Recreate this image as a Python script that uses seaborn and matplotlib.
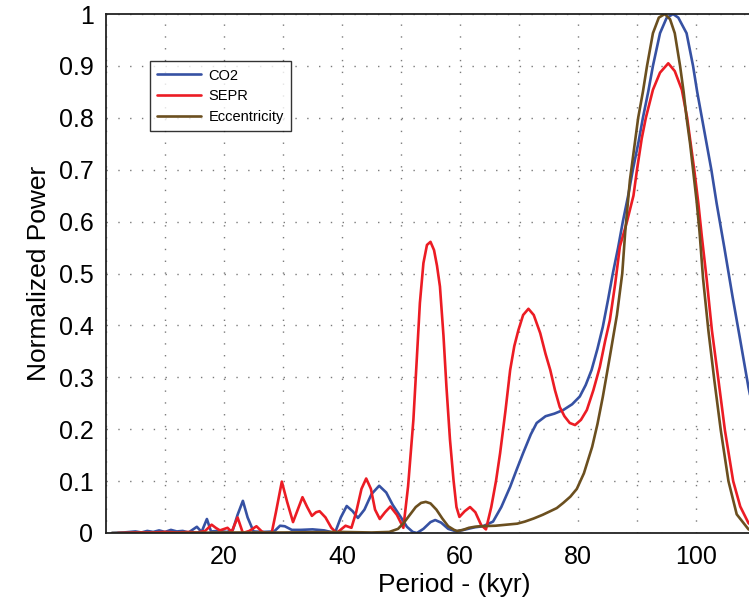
import pandas as pd
import seaborn as sns
from matplotlib import pyplot as plt
from matplotlib.lines import Line2D

# Period (kyr) and normalized power
co2_period = [1, 3, 5, 6, 7, 8, 9, 10, 11, 12, 13, 14, 15.4, 16.2, 17.1, 17.8, 19, 20.5, 21.5,
              22.3, 23.2, 24, 25, 26.5, 28.5, 29.5, 30.3, 31.5, 33, 35, 37, 38.8, 39.8, 40.8,
              41.8, 42.7, 43.8, 45, 46.3, 47.5, 48.6, 50, 51, 52, 52.7, 53.8, 55, 55.8, 56.8,
              58, 59.4, 61, 62.5, 63.9, 65.6, 67, 68.5, 69.6, 70.7, 72, 73, 74.5, 76, 77.5, 79,
              80.3, 81.3, 82.3, 83.3, 84.2, 85.1, 85.9, 86.8, 87.6, 88.5, 89.3, 90.2, 91, 91.9,
              92.7, 93.9, 95, 96.1, 97, 98.4, 99.5, 100.2, 101, 101.8, 102.6, 103.5, 104.8,
              106.2, 107.4, 108.9, 110]
co2_power = [0, 0.001, 0.003, 0.001, 0.004, 0.002, 0.005, 0.002, 0.006, 0.003, 0.004, 0.001,
             0.012, 0.002, 0.027, 0.003, 0.004, 0.002, 0.006, 0.035, 0.062, 0.03, 0.003, 0.002,
             0.003, 0.014, 0.013, 0.006, 0.006, 0.007, 0.005, 0.0, 0.03, 0.052, 0.042, 0.029,
             0.045, 0.075, 0.091, 0.078, 0.054, 0.03, 0.012, 0.002, 0.0, 0.008, 0.021, 0.025,
             0.02, 0.008, 0.003, 0.007, 0.011, 0.013, 0.022, 0.05, 0.089, 0.122, 0.154, 0.19,
             0.212, 0.225, 0.23, 0.237, 0.248, 0.263, 0.285, 0.314, 0.355, 0.397, 0.45, 0.50,
             0.55, 0.60, 0.65, 0.70, 0.75, 0.80, 0.85, 0.90, 0.963, 0.992, 1.0, 0.993, 0.963,
             0.90, 0.85, 0.80, 0.75, 0.70, 0.635, 0.55, 0.455, 0.378, 0.28, 0.22]

sepr_period = [2, 5, 8, 10, 12, 14, 15.5, 16.8, 17.9, 18.6, 19.3, 20.6, 21.3, 22.3, 23.2, 24.3,
               25.5, 26.4, 27, 28.1, 28.8, 29.8, 30.7, 31.7, 32.5, 33.3, 34.1, 34.9, 35.6, 36.2,
               37.2, 38.2, 39.1, 40.6, 41.6, 42.4, 43.3, 44.1, 44.9, 45.6, 46.4, 47.3, 48.2,
               49.3, 50.4, 51.2, 52.1, 52.7, 53.2, 53.8, 54.4, 55, 55.6, 56.1, 56.6, 57.2, 57.7,
               58.3, 58.9, 59.4, 59.9, 60.8, 61.7, 62.6, 63.6, 64.4, 65.3, 66.1, 66.8, 67.7,
               68.5, 69.2, 69.9, 70.7, 71.6, 72.5, 73.6, 74.5, 75.3, 76.1, 76.9, 77.7, 78.6,
               79.5, 80.5, 81.5, 82.6, 83.7, 84.6, 85.4, 86.3, 87.1, 88.3, 89.4, 90.0, 90.8,
               91.5, 92.7, 93.9, 95.3, 96.4, 97.6, 98.5, 99.1, 99.7, 100.4, 101.0, 101.8,
               102.7, 103.8, 104.9, 106.3, 107.5, 108.9, 110]
sepr_power = [0, 0.001, 0.001, 0.002, 0.001, 0.002, 0.001, 0.004, 0.016, 0.01, 0.005, 0.01,
              0.002, 0.03, 0.0, 0.004, 0.013, 0.003, 0, 0.001, 0.04, 0.099, 0.06, 0.021, 0.045,
              0.069, 0.05, 0.033, 0.04, 0.042, 0.03, 0.01, 0.0, 0.014, 0.01, 0.04, 0.085, 0.105,
              0.085, 0.045, 0.027, 0.04, 0.051, 0.035, 0.01, 0.09, 0.218, 0.34, 0.443, 0.52,
              0.555, 0.561, 0.545, 0.515, 0.475, 0.38, 0.282, 0.18, 0.102, 0.05, 0.031, 0.042,
              0.05, 0.04, 0.015, 0.007, 0.05, 0.1, 0.154, 0.235, 0.314, 0.36, 0.391, 0.42,
              0.432, 0.42, 0.385, 0.345, 0.314, 0.275, 0.243, 0.225, 0.212, 0.208, 0.218,
              0.237, 0.275, 0.32, 0.37, 0.41, 0.48, 0.552, 0.60, 0.65, 0.70, 0.76, 0.80, 0.854,
              0.887, 0.905, 0.89, 0.854, 0.80, 0.75, 0.70, 0.635, 0.57, 0.49, 0.39, 0.295,
              0.198, 0.10, 0.051, 0.019, 0.01]

ecc_period = [1, 10, 20, 30, 40, 45, 48, 49.5, 50.5, 51.5, 52.5, 53.4, 54.2, 55, 56, 57, 58, 59,
              59.5, 60.5, 61.5, 62.5, 63.4, 66, 69.7, 71, 72.5, 74, 75.3, 76.4, 77.5, 78.7,
              79.8, 81, 82.4, 83.3, 84.2, 85.4, 86.6, 87.5, 88.0, 88.8, 89.5, 90.2, 91.0, 91.7,
              92.7, 93.7, 94.7, 95.6, 96.4, 97.3, 97.9, 98.4, 99.0, 99.5, 100.1, 100.6, 101.2,
              102.1, 103.1, 104.2, 105.5, 106.9, 108.9, 110]
ecc_power = [0, 0, 0.001, 0.001, 0.002, 0.001, 0.002, 0.008, 0.02, 0.035, 0.05, 0.058, 0.06,
             0.057, 0.045, 0.028, 0.013, 0.006, 0.004, 0.006, 0.01, 0.012, 0.013, 0.014, 0.018,
             0.022, 0.028, 0.035, 0.042, 0.048, 0.058, 0.07, 0.085, 0.115, 0.166, 0.21, 0.262,
             0.34, 0.42, 0.50, 0.58, 0.68, 0.74, 0.80, 0.85, 0.90, 0.963, 0.993, 1.0, 0.99,
             0.963, 0.90, 0.85, 0.80, 0.75, 0.70, 0.64, 0.58, 0.49, 0.39, 0.295, 0.198, 0.10,
             0.036, 0.007, 0.003]

series_names = ["CO2", "SEPR", "Eccentricity"]
series_colors = ["#3651a3", "#ec1c24", "#6b4f1f"]

xtick_values = [0, 10, 20, 30, 40, 50, 60, 70, 80, 90, 100, 110]
xtick_labels = ["", "", "20", "", "40", "", "60", "", "80", "", "100", ""]
ytick_values = [0, 0.1, 0.2, 0.3, 0.4, 0.5, 0.6, 0.7, 0.8, 0.9, 1.0]
ytick_labels = ["0", "0.1", "0.2", "0.3", "0.4", "0.5", "0.6", "0.7", "0.8", "0.9", "1"]


def build_frame():
    parts = []
    for name, px, py in zip(series_names,
                            [co2_period, sepr_period, ecc_period],
                            [co2_power, sepr_power, ecc_power]):
        parts.append(pd.DataFrame({"period": px, "power": py, "series": name}))
    return pd.concat(parts, ignore_index=True)


def plot_data(data, filename):
    sns.set_style("white", {"text.color": "black", "axes.labelcolor": "black",
                            "xtick.color": "black", "ytick.color": "black"})
    plt.rcParams["font.family"] = ["Liberation Sans", "DejaVu Sans"]

    fig = plt.figure(figsize=(7.49, 6.07), dpi=100)
    ax = fig.add_axes([106 / 749, 74 / 607, 649 / 749, 519 / 607])

    sns.lineplot(data=data, x="period", y="power", hue="series", hue_order=series_names,
                 palette=series_colors, estimator=None, sort=False, linewidth=1.9,
                 legend=False, ax=ax)

    ax.set_xlim(0, 110)
    ax.set_ylim(0, 1)
    ax.set_xticks(xtick_values)
    ax.set_xticklabels(xtick_labels, fontsize=18)
    ax.set_yticks(ytick_values)
    ax.set_yticklabels(ytick_labels, fontsize=18)
    ax.tick_params(axis="x", direction="in", length=5, width=1, pad=9, colors="black")
    ax.tick_params(axis="y", direction="in", length=4, width=1, pad=9, colors="black")

    ax.grid(True, linestyle=(0, (1, 7.5)), color="#7a7a7a", linewidth=1)
    ax.set_axisbelow(True)
    for side in ["left", "bottom", "top"]:
        ax.spines[side].set_color("#222222")
        ax.spines[side].set_linewidth(1.3)
    ax.spines["right"].set_visible(False)

    ax.set_xlabel("Period - (kyr)", fontsize=19, color="black")
    ax.set_ylabel("Normalized Power", fontsize=19, color="black")
    ax.xaxis.set_label_coords(0.536, -0.078)
    ax.yaxis.set_label_coords(-0.085, 0.5)

    handles = [Line2D([0], [0], color=c, lw=1.9) for c in series_colors]
    leg = ax.legend(handles, series_names, loc="upper left", bbox_to_anchor=(0.068, 0.909),
                    borderaxespad=0, fontsize=10.5, frameon=True, fancybox=False,
                    handlelength=3, borderpad=0.5, labelspacing=0.45, handletextpad=0.5,
                    labelcolor="black")
    leg.get_frame().set_edgecolor("black")
    leg.get_frame().set_linewidth(1.0)

    plt.savefig(filename, dpi=100)
    print("Figure saved.")


def main():
    data = build_frame()
    plot_data(data, "out.png")

main()
